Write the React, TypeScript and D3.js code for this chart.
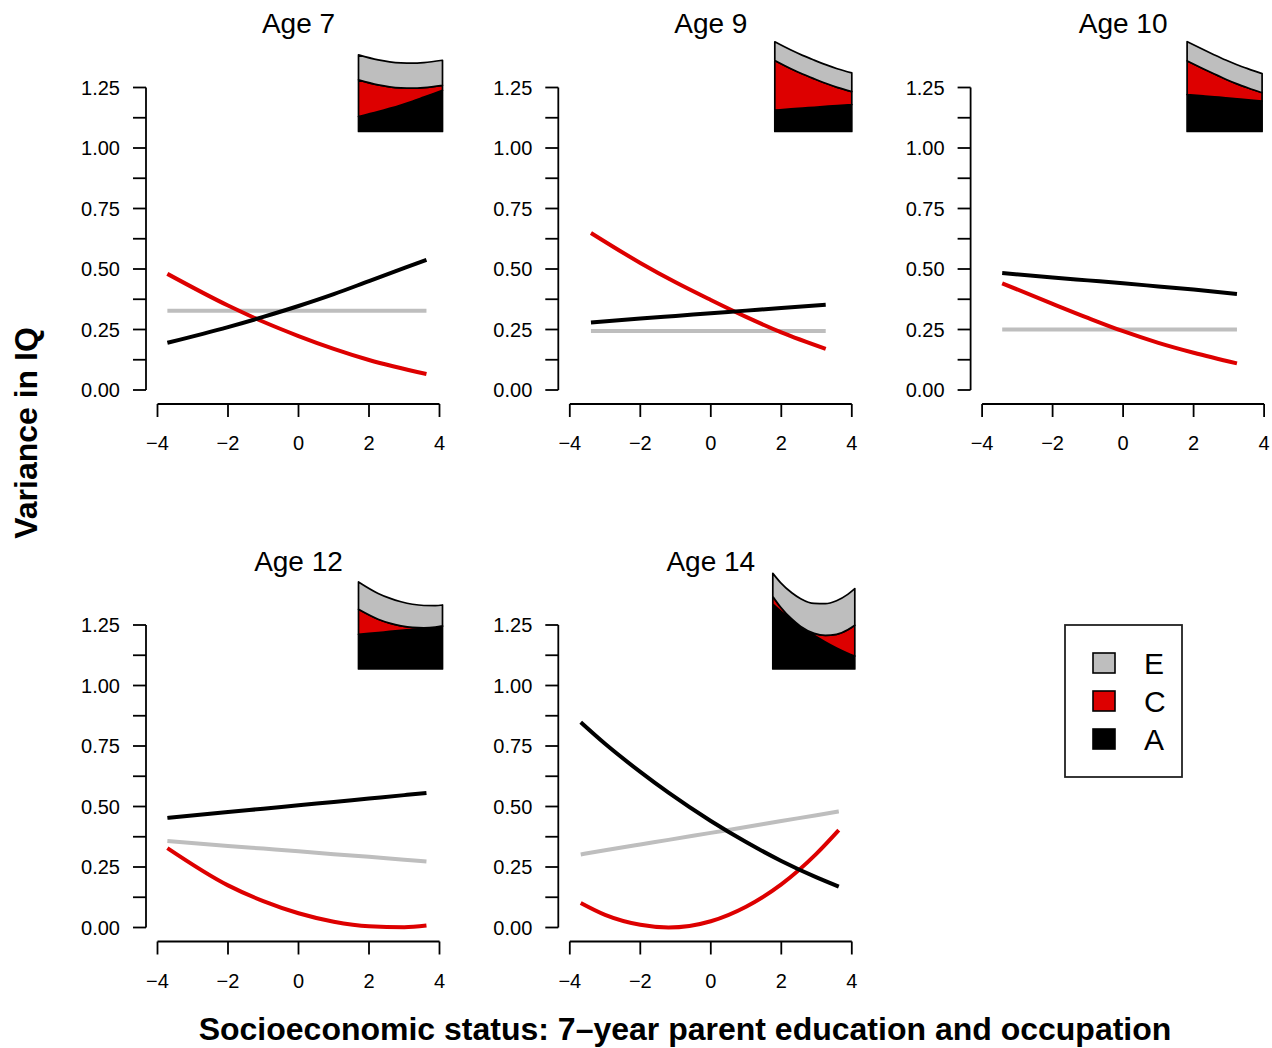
import React from "react";
import * as d3 from "d3";

// ---------------- data ----------------
const panelTitles = ["Age 7", "Age 9", "Age 10", "Age 12", "Age 14"];

const ses7 = [-3.72, -2, -1, 0, 1, 2, 3.63];
const a7 = [0.195, 0.26, 0.302, 0.347, 0.396, 0.45, 0.538];
const c7 = [0.48, 0.349, 0.282, 0.223, 0.17, 0.124, 0.066];
const e7 = [0.327, 0.327, 0.327, 0.327, 0.327, 0.327, 0.327];

const ses9 = [-3.4, -2, -1, 0, 1, 2, 3.26];
const a9 = [0.279, 0.295, 0.306, 0.317, 0.328, 0.339, 0.352];
const c9 = [0.649, 0.525, 0.445, 0.372, 0.302, 0.238, 0.17];
const e9 = [0.244, 0.244, 0.244, 0.244, 0.244, 0.244, 0.244];

const ses10 = [-3.43, -2, -1, 0, 1, 2, 3.23];
const a10 = [0.483, 0.465, 0.453, 0.441, 0.428, 0.415, 0.397];
const c10 = [0.441, 0.356, 0.298, 0.243, 0.195, 0.154, 0.11];
const e10 = [0.25, 0.25, 0.25, 0.25, 0.25, 0.25, 0.25];

const ses12 = [-3.72, -2, -1, 0, 1, 2, 3, 3.63];
const a12 = [0.453, 0.477, 0.491, 0.505, 0.519, 0.533, 0.547, 0.556];
const c12 = [0.328, 0.174, 0.109, 0.059, 0.024, 0.005, 0.001, 0.008];
const e12 = [0.357, 0.337, 0.326, 0.315, 0.303, 0.292, 0.28, 0.273];

const ses14 = [-3.69, -3, -2, -1.2, 0, 1, 2, 3, 3.63];
const a14 = [0.848, 0.759, 0.643, 0.557, 0.44, 0.353, 0.275, 0.207, 0.169];
const c14 = [0.101, 0.052, 0.011, 0.0, 0.026, 0.086, 0.178, 0.305, 0.402];
const e14 = [0.302, 0.319, 0.343, 0.362, 0.391, 0.415, 0.44, 0.464, 0.48];

const yTickValues = [0, 0.125, 0.25, 0.375, 0.5, 0.625, 0.75, 0.875, 1, 1.125, 1.25];
const yLabelValues = [0, 0.25, 0.5, 0.75, 1, 1.25];
const xTickValues = [-4, -2, 0, 2, 4];

const legendKeys = ["E", "C", "A"];

const xAxisTitle = "Socioeconomic status: 7\u2013year parent education and occupation";
const yAxisTitle = "Variance in IQ";

// ---------------- layout ----------------
const W = 1272;
const H = 1048;
const FONT = "'Liberation Sans', Arial, Helvetica, sans-serif";
const COLORS: Record<string, string> = { E: "#bebebe", C: "#dd0000", A: "#000000" };

const panelData = [
  { title: panelTitles[0], ses: ses7, A: a7, C: c7, E: e7 },
  { title: panelTitles[1], ses: ses9, A: a9, C: c9, E: e9 },
  { title: panelTitles[2], ses: ses10, A: a10, C: c10, E: e10 },
  { title: panelTitles[3], ses: ses12, A: a12, C: c12, E: e12 },
  { title: panelTitles[4], ses: ses14, A: a14, C: c14, E: e14 },
];
const panelGrid = [
  { col: 0, row: 0, insetL: 201, insetR: 285 },
  { col: 1, row: 0, insetL: 205, insetR: 282 },
  { col: 2, row: 0, insetL: 205, insetR: 280 },
  { col: 0, row: 1, insetL: 201, insetR: 285 },
  { col: 1, row: 1, insetL: 203, insetR: 285 },
];

const COL_STEP = 412.3;
const ROW_STEP = 537.5;

function Panel({ d, g }: { d: any; g: any }) {
  const ox = COL_STEP * g.col;
  const oy = ROW_STEP * g.row;
  const x = d3.scaleLinear().domain([-4, 4]).range([157.5 + ox, 439.5 + ox]);
  const y = d3.scaleLinear().domain([0, 1.25]).range([390 + oy, 87.5 + oy]);
  const yAxisX = 146 + ox;
  const xAxisY = 404 + oy;

  const pts = (vals: number[]) => d.ses.map((s: number, i: number) => [s, vals[i]] as [number, number]);
  const line = d3
    .line<[number, number]>()
    .x((p) => x(p[0]))
    .y((p) => y(p[1]))
    .curve(d3.curveMonotoneX);

  // inset stacked area
  const xmin = d.ses[0];
  const xmax = d.ses[d.ses.length - 1];
  const ix = d3.scaleLinear().domain([xmin, xmax]).range([x(-4) + g.insetL, x(-4) + g.insetR]);
  const bottom = 131.5 + oy;
  const iy = d3.scaleLinear().domain([0, 1.25]).range([bottom, bottom - 76.5 * 1.25]);
  const stackRows = d.ses.map((s: number, i: number) => ({
    s,
    a0: 0,
    a1: d.A[i],
    c1: d.A[i] + d.C[i],
    e1: d.A[i] + d.C[i] + d.E[i],
  }));
  const mkArea = (lo: string, hi: string) =>
    d3
      .area<any>()
      .x((r) => ix(r.s))
      .y0((r) => iy(r[lo]))
      .y1((r) => iy(r[hi]))
      .curve(d3.curveMonotoneX)(stackRows) as string;

  return (
    <g>
      <text x={x(0)} y={33 + oy} textAnchor="middle" fontSize={28} fontFamily={FONT}>
        {d.title}
      </text>
      {/* y axis */}
      <line x1={yAxisX} x2={yAxisX} y1={y(0)} y2={y(1.25)} stroke="#000" strokeWidth={1.8} />
      {yTickValues.map((t) => (
        <line key={"yt" + t} x1={yAxisX - 13} x2={yAxisX} y1={y(t)} y2={y(t)} stroke="#000" strokeWidth={1.8} />
      ))}
      {yLabelValues.map((t) => (
        <text key={"yl" + t} x={yAxisX - 26} y={y(t)} dy="0.35em" textAnchor="end" fontSize={20} fontFamily={FONT}>
          {d3.format(".2f")(t)}
        </text>
      ))}
      {/* x axis */}
      <line x1={x(-4)} x2={x(4)} y1={xAxisY} y2={xAxisY} stroke="#000" strokeWidth={1.8} />
      {xTickValues.map((t) => (
        <line key={"xt" + t} x1={x(t)} x2={x(t)} y1={xAxisY} y2={xAxisY + 13} stroke="#000" strokeWidth={1.8} />
      ))}
      {xTickValues.map((t) => (
        <text key={"xl" + t} x={x(t)} y={xAxisY + 46} textAnchor="middle" fontSize={20} fontFamily={FONT}>
          {t < 0 ? "\u2212" + Math.abs(t) : String(t)}
        </text>
      ))}
      {/* lines */}
      <path d={line(pts(d.E)) as string} fill="none" stroke={COLORS.E} strokeWidth={4} />
      <path d={line(pts(d.C)) as string} fill="none" stroke={COLORS.C} strokeWidth={4} />
      <path d={line(pts(d.A)) as string} fill="none" stroke={COLORS.A} strokeWidth={4} />
      {/* inset */}
      <path d={mkArea("a0", "a1")} fill={COLORS.A} stroke="#000" strokeWidth={1.7} strokeLinejoin="round" />
      <path d={mkArea("a1", "c1")} fill={COLORS.C} stroke="#000" strokeWidth={1.7} strokeLinejoin="round" />
      <path d={mkArea("c1", "e1")} fill={COLORS.E} stroke="#000" strokeWidth={1.7} strokeLinejoin="round" />
    </g>
  );
}

export default function App() {
  const legendX = 1065;
  const legendY = 625;
  return (
    <svg
      width={W}
      height={H}
      viewBox={`0 0 ${W} ${H}`}
      style={{ position: "absolute", left: 0, top: 0, background: "#fff" }}
    >
      <rect x={0} y={0} width={W} height={H} fill="#fff" />
      {panelData.map((d, i) => (
        <Panel key={d.title} d={d} g={panelGrid[i]} />
      ))}
      {/* legend */}
      <rect x={legendX} y={legendY} width={117} height={152} fill="#fff" stroke="#222" strokeWidth={1.8} />
      {legendKeys.map((k, i) => (
        <g key={k}>
          <rect
            x={legendX + 28}
            y={legendY + 28 + i * 38}
            width={22}
            height={20}
            fill={COLORS[k]}
            stroke="#000"
            strokeWidth={1.6}
          />
          <text x={legendX + 79} y={legendY + 38 + i * 38} dy="0.36em" fontSize={30} fontFamily={FONT}>
            {k}
          </text>
        </g>
      ))}
      {/* axis titles */}
      <text x={685} y={1040} textAnchor="middle" fontSize={32} fontWeight="bold" fontFamily={FONT}>
        {xAxisTitle}
      </text>
      <text
        transform="translate(37,433) rotate(-90)"
        textAnchor="middle"
        fontSize={32}
        fontWeight="bold"
        fontFamily={FONT}
      >
        {yAxisTitle}
      </text>
    </svg>
  );
}
